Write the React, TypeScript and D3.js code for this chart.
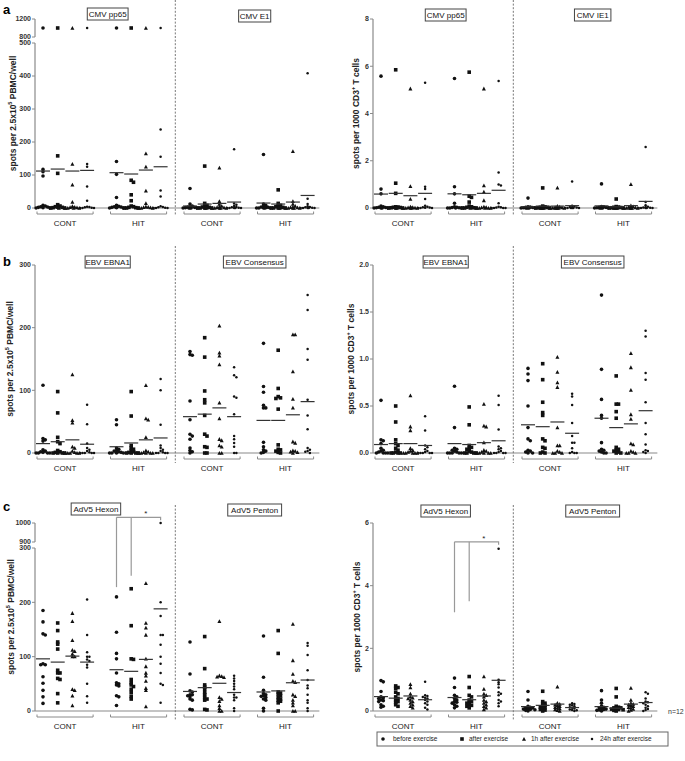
import React from "react";
import * as d3 from "d3";

const FONT = "'Liberation Sans', Arial, Helvetica, sans-serif";
const groups = ["CONT", "HIT"];
const timepoints = ["before exercise", "after exercise", "1h after exercise", "24h after exercise"];

// Each antigen: 8 columns (CONT before, after, 1h, 24h, HIT before, after, 1h, 24h), 12 donors each
const cmvPp65Pbmc = [
  [1000, 117, 110, 97, 8, 6, 4, 3, 2, 1, 0, 0],
  [1000, 158, 105, 10, 6, 4, 3, 2, 1, 0, 0, 0],
  [1000, 133, 70, 18, 5, 3, 2, 1, 0, 0, 0, 0],
  [1000, 133, 125, 65, 22, 4, 3, 2, 1, 0, 0, 0],
  [1000, 141, 102, 32, 8, 5, 4, 3, 2, 1, 0, 0],
  [1000, 84, 78, 40, 22, 6, 4, 2, 1, 0, 0, 0],
  [1000, 165, 125, 52, 14, 4, 3, 2, 1, 0, 0, 0],
  [1000, 238, 155, 53, 35, 5, 3, 2, 1, 0, 0, 0],
];
const cmvPp65PbmcMean = [112, 118, 112, 114, 107, 103, 115, 125];
const cmvE1Pbmc = [
  [59, 12, 6, 4, 3, 2, 1, 0, 0, 0, 0, 0],
  [127, 14, 8, 5, 3, 2, 1, 0, 0, 0, 0, 0],
  [122, 20, 12, 6, 4, 2, 1, 0, 0, 0, 0, 0],
  [178, 14, 10, 6, 3, 2, 1, 0, 0, 0, 0, 0],
  [162, 12, 8, 5, 3, 2, 1, 0, 0, 0, 0, 0],
  [55, 14, 8, 6, 4, 2, 1, 0, 0, 0, 0, 0],
  [172, 20, 12, 6, 3, 2, 1, 0, 0, 0, 0, 0],
  [408, 28, 12, 5, 3, 2, 1, 0, 0, 0, 0, 0],
];
const cmvE1PbmcMean = [6, 12, 14, 18, 15, 12, 18, 38];

const cmvPp65Cd3 = [
  [5.58, 0.8, 0.6, 0.08, 0.05, 0.03, 0.02, 0.01, 0, 0, 0, 0],
  [5.85, 1.05, 0.62, 0.05, 0.04, 0.03, 0.02, 0.01, 0, 0, 0, 0],
  [5.05, 0.92, 0.38, 0.05, 0.03, 0.02, 0.01, 0, 0, 0, 0, 0],
  [5.3, 0.9, 0.8, 0.38, 0.1, 0.05, 0.03, 0.02, 0.01, 0, 0, 0],
  [5.48, 0.9, 0.6, 0.2, 0.05, 0.03, 0.02, 0.01, 0, 0, 0, 0],
  [5.75, 0.5, 0.45, 0.25, 0.08, 0.05, 0.03, 0.01, 0, 0, 0, 0],
  [5.05, 0.95, 0.68, 0.32, 0.05, 0.03, 0.02, 0, 0, 0, 0, 0],
  [5.38, 1.5, 1.0, 0.95, 0.2, 0.05, 0.03, 0.02, 0, 0, 0, 0],
];
const cmvPp65Cd3Mean = [0.59, 0.62, 0.52, 0.62, 0.6, 0.56, 0.62, 0.75];
const cmvIe1Cd3 = [
  [0.42, 0.05, 0.04, 0.03, 0.02, 0.01, 0, 0, 0, 0, 0, 0],
  [0.85, 0.08, 0.05, 0.03, 0.02, 0.01, 0, 0, 0, 0, 0, 0],
  [0.85, 0.08, 0.05, 0.03, 0.02, 0.01, 0, 0, 0, 0, 0, 0],
  [1.12, 0.1, 0.06, 0.04, 0.02, 0.01, 0, 0, 0, 0, 0, 0],
  [1.02, 0.06, 0.05, 0.03, 0.02, 0.01, 0, 0, 0, 0, 0, 0],
  [0.38, 0.06, 0.04, 0.03, 0.02, 0.01, 0, 0, 0, 0, 0, 0],
  [1.0, 0.1, 0.06, 0.04, 0.02, 0.01, 0, 0, 0, 0, 0, 0],
  [2.58, 0.25, 0.12, 0.05, 0.03, 0.02, 0.01, 0, 0, 0, 0, 0],
];
const cmvIe1Cd3Mean = [0.05, 0.08, 0.08, 0.1, 0.09, 0.05, 0.1, 0.28];

const ebna1Pbmc = [
  [108, 23, 21, 19, 5, 3, 2, 1, 0, 0, 0, 0],
  [98, 64, 25, 18, 15, 4, 2, 1, 0, 0, 0, 0],
  [125, 52, 48, 10, 8, 3, 1, 0, 0, 0, 0, 0],
  [77, 46, 15, 8, 5, 3, 1, 0, 0, 0, 0, 0],
  [53, 45, 8, 6, 4, 3, 2, 1, 0, 0, 0, 0],
  [98, 59, 12, 8, 6, 4, 2, 1, 0, 0, 0, 0],
  [108, 55, 53, 25, 4, 2, 1, 0, 0, 0, 0, 0],
  [118, 100, 45, 12, 8, 5, 3, 1, 0, 0, 0, 0],
];
const ebna1PbmcMean = [15, 18, 21, 14, 10, 16, 21, 24];
const ebvConsPbmc = [
  [162, 157, 156, 83, 53, 30, 27, 22, 8, 4, 2, 0],
  [184, 153, 99, 85, 80, 60, 30, 27, 10, 9, 0, 0],
  [203, 160, 155, 141, 80, 55, 22, 20, 12, 10, 0, 0],
  [137, 124, 121, 90, 88, 62, 27, 22, 16, 10, 0, 0],
  [175, 106, 97, 76, 72, 72, 17, 10, 5, 3, 1, 0],
  [164, 103, 90, 88, 87, 70, 13, 6, 5, 3, 1, 0],
  [189, 189, 130, 86, 72, 18, 16, 4, 3, 2, 1, 0],
  [252, 228, 166, 149, 85, 60, 38, 8, 5, 3, 2, 0],
];
const ebvConsPbmcMean = [58, 62, 72, 58, 52, 52, 61, 82];

const ebna1Cd3 = [
  [0.56, 0.14, 0.13, 0.1, 0.05, 0.03, 0.02, 0.01, 0, 0, 0, 0],
  [0.5, 0.33, 0.14, 0.1, 0.08, 0.05, 0.03, 0.01, 0, 0, 0, 0],
  [0.61, 0.28, 0.24, 0.05, 0.03, 0.02, 0.01, 0, 0, 0, 0, 0],
  [0.39, 0.24, 0.08, 0.06, 0.04, 0.02, 0.01, 0, 0, 0, 0, 0],
  [0.71, 0.27, 0.05, 0.04, 0.03, 0.02, 0.01, 0, 0, 0, 0, 0],
  [0.49, 0.3, 0.08, 0.06, 0.05, 0.04, 0.02, 0.01, 0, 0, 0, 0],
  [0.52, 0.29, 0.28, 0.11, 0.03, 0.02, 0.01, 0, 0, 0, 0, 0],
  [0.61, 0.51, 0.25, 0.07, 0.05, 0.04, 0.02, 0.01, 0, 0, 0, 0],
];
const ebna1Cd3Mean = [0.09, 0.1, 0.1, 0.08, 0.1, 0.09, 0.11, 0.13];
const ebvConsCd3 = [
  [0.9, 0.84, 0.77, 0.5, 0.27, 0.15, 0.13, 0.03, 0.02, 0.01, 0, 0],
  [0.95, 0.78, 0.54, 0.43, 0.4, 0.15, 0.13, 0.06, 0.05, 0.01, 0, 0],
  [1.02, 0.86, 0.75, 0.7, 0.27, 0.08, 0.08, 0.02, 0.01, 0, 0, 0],
  [0.63, 0.6, 0.51, 0.32, 0.18, 0.11, 0.11, 0.05, 0.01, 0, 0, 0],
  [1.68, 0.89, 0.57, 0.4, 0.37, 0.11, 0.04, 0.03, 0.02, 0.01, 0, 0],
  [0.82, 0.52, 0.52, 0.44, 0.37, 0.06, 0.04, 0.03, 0.02, 0.01, 0, 0],
  [1.06, 0.91, 0.67, 0.41, 0.36, 0.1, 0.09, 0.02, 0.01, 0, 0, 0],
  [1.3, 1.24, 0.85, 0.78, 0.54, 0.32, 0.2, 0.09, 0.03, 0.02, 0.01, 0],
];
const ebvConsCd3Mean = [0.3, 0.28, 0.33, 0.21, 0.37, 0.27, 0.31, 0.45];

const hexonPbmc = [
  [185, 164, 142, 140, 87, 85, 85, 63, 51, 38, 26, 14],
  [162, 148, 127, 123, 114, 75, 70, 70, 60, 58, 32, 15],
  [180, 165, 130, 112, 110, 105, 100, 100, 40, 38, 28, 10],
  [205, 140, 108, 100, 100, 95, 92, 85, 80, 50, 27, 15],
  [210, 145, 106, 96, 70, 52, 50, 48, 46, 28, 26, 10],
  [225, 157, 96, 95, 58, 52, 48, 45, 40, 34, 27, 22],
  [235, 162, 153, 140, 96, 82, 70, 65, 55, 42, 38, 8],
  [1000, 200, 175, 140, 140, 122, 100, 87, 70, 50, 48, 15],
];
const hexonPbmcMean = [96, 90, 101, 90, 76, 73, 95, 188];
const pentonPbmc = [
  [127, 68, 37, 35, 30, 30, 28, 26, 22, 20, 3, 2],
  [137, 78, 48, 44, 40, 34, 30, 25, 22, 20, 3, 2],
  [165, 65, 64, 63, 62, 25, 22, 18, 10, 5, 0, 0],
  [65, 60, 55, 50, 45, 40, 30, 25, 25, 20, 5, 0],
  [138, 62, 38, 32, 30, 28, 27, 25, 22, 20, 5, 0],
  [148, 106, 35, 33, 31, 28, 25, 22, 20, 18, 15, 0],
  [160, 93, 68, 55, 53, 30, 27, 20, 15, 10, 0, 0],
  [125, 120, 103, 75, 57, 47, 42, 30, 20, 15, 5, 0],
];
const pentonPbmcMean = [36, 43, 51, 34, 35, 37, 52, 57];

const hexonCd3 = [
  [0.97, 0.93, 0.62, 0.45, 0.42, 0.4, 0.35, 0.33, 0.3, 0.2, 0.15, 0.12],
  [0.8, 0.75, 0.72, 0.6, 0.55, 0.45, 0.4, 0.35, 0.3, 0.28, 0.2, 0.15],
  [0.85, 0.75, 0.55, 0.45, 0.42, 0.4, 0.35, 0.3, 0.25, 0.2, 0.15, 0.1],
  [0.93, 0.5, 0.48, 0.45, 0.42, 0.4, 0.35, 0.3, 0.25, 0.2, 0.1, 0.05],
  [1.05, 0.75, 0.5, 0.45, 0.4, 0.35, 0.3, 0.28, 0.25, 0.2, 0.15, 0.1],
  [1.1, 0.75, 0.5, 0.45, 0.35, 0.3, 0.28, 0.25, 0.2, 0.18, 0.15, 0.1],
  [1.1, 0.7, 0.55, 0.5, 0.45, 0.35, 0.3, 0.25, 0.2, 0.15, 0.1, 0.05],
  [5.18, 1.0, 0.92, 0.85, 0.75, 0.6, 0.55, 0.5, 0.35, 0.3, 0.25, 0.15],
];
const hexonCd3Mean = [0.46, 0.41, 0.48, 0.36, 0.43, 0.36, 0.48, 0.98];
const pentonCd3 = [
  [0.62, 0.35, 0.15, 0.12, 0.1, 0.1, 0.08, 0.06, 0.05, 0.04, 0.02, 0],
  [0.63, 0.3, 0.25, 0.22, 0.18, 0.15, 0.12, 0.1, 0.08, 0.05, 0.03, 0],
  [0.77, 0.25, 0.22, 0.2, 0.18, 0.15, 0.12, 0.1, 0.08, 0.05, 0.02, 0],
  [0.25, 0.22, 0.2, 0.18, 0.15, 0.12, 0.1, 0.08, 0.05, 0.03, 0.02, 0],
  [0.65, 0.35, 0.25, 0.15, 0.12, 0.1, 0.08, 0.06, 0.05, 0.03, 0.02, 0],
  [0.72, 0.45, 0.15, 0.12, 0.1, 0.1, 0.08, 0.06, 0.05, 0.04, 0.02, 0],
  [0.73, 0.35, 0.25, 0.22, 0.2, 0.18, 0.15, 0.12, 0.1, 0.06, 0.03, 0],
  [0.6, 0.55, 0.4, 0.3, 0.28, 0.25, 0.2, 0.15, 0.1, 0.06, 0.03, 0],
];
const pentonCd3Mean = [0.14, 0.18, 0.22, 0.11, 0.14, 0.09, 0.22, 0.27];

const aPbmcTicks = [0, 100, 200, 300, 400, 500, 800, 1200];
const aCd3Ticks = [0, 2, 4, 6, 8];
const bPbmcTicks = [0, 100, 200, 300];
const bCd3Ticks = [0, 0.5, 1, 1.5, 2];
const cPbmcTicks = [0, 100, 200, 300, 900, 1000];
const cCd3Ticks = [0, 2, 4, 6];

// significance: HIT before & HIT after vs HIT 24h (AdV5 Hexon)
const sigFromCols = [4, 5];
const sigToCol = 7;
const sigHexonPbmc = { starts: [228, 249], top: 1030 };
const sigHexonCd3 = { starts: [3.15, 3.5], top: 5.4 };

type Seg = { d: [number, number]; r: [number, number] };

function makeY(segs: Seg[]) {
  const sc = segs.map((s) => d3.scaleLinear().domain(s.d).range(s.r));
  return (v: number) => {
    for (let i = 0; i < segs.length; i++) {
      if (v <= segs[i].d[1] || i === segs.length - 1) return sc[i](v);
    }
    return sc[0](v);
  };
}

function swarm(vals: number[], y: (v: number) => number, cx: number, s: number) {
  const order = vals.map((v, i) => ({ v, i, py: y(v) })).sort((a, b) => b.v - a.v);
  const placed: { x: number; y: number }[] = [];
  const out: { x: number; y: number }[] = new Array(vals.length);
  order.forEach((p, n) => {
    let best = 0;
    let found = false;
    for (let k = 0; k < 7; k++) {
      const off = k === 0 ? 0 : (k % 2 === 1 ? 1 : -1) * Math.ceil(k / 2) * s;
      const ok = placed.every(
        (q) => Math.abs(q.x - (cx + off)) >= s * 0.9 || Math.abs(q.y - p.py) >= s * 0.9
      );
      if (ok) {
        best = off;
        found = true;
        break;
      }
    }
    if (!found) best = ((n % 7) - 3) * s * 0.5;
    placed.push({ x: cx + best, y: p.py });
    out[p.i] = { x: cx + best, y: p.py };
  });
  return out;
}

function Marker({ t, x, y }: { t: number; x: number; y: number }) {
  const c = "#111";
  if (t === 0) return <circle cx={x} cy={y} r={1.8} fill={c} />;
  if (t === 1) return <rect x={x - 1.8} y={y - 1.8} width={3.6} height={3.6} fill={c} />;
  if (t === 2) {
    const h = 3.4;
    return <path d={`M${x},${y - h / 2 - 0.4}L${x + 2},${y + h / 2}L${x - 2},${y + h / 2}Z`} fill={c} />;
  }
  return <circle cx={x} cy={y} r={1.25} fill={c} />;
}

type ChartCfg = {
  axisX: number;
  zeroY: number;
  segs: Seg[];
  ticks: number[];
  tickFmt: (v: number) => string;
  titles: string[];
  titleSlots: number[];
  titleTop: number[];
  data: number[][][];
  means: number[][];
  yLabel: "pbmc" | "cd3";
  yLabelX: number;
  divTop: number;
  divBottom: number;
  sig?: { antigen: number; starts: number[]; top: number };
};

const fmt0 = (v: number) => String(v);
const fmt1 = d3.format(".1f");

const charts: ChartCfg[] = [
  {
    axisX: 35, zeroY: 208,
    segs: [{ d: [0, 500], r: [208, 43] }, { d: [800, 1200], r: [37, 19] }],
    ticks: aPbmcTicks, tickFmt: fmt0, titles: ["CMV pp65", "CMV E1"], titleSlots: [4.4, 14.4], titleTop: [8, 10],
    data: [cmvPp65Pbmc, cmvE1Pbmc], means: [cmvPp65PbmcMean, cmvE1PbmcMean], yLabel: "pbmc", yLabelX: 14,
    divTop: 0, divBottom: 216,
  },
  {
    axisX: 373, zeroY: 208,
    segs: [{ d: [0, 8], r: [208, 19] }],
    ticks: aCd3Ticks, tickFmt: fmt0, titles: ["CMV pp65", "CMV IE1"], titleSlots: [4.4, 14.4], titleTop: [9, 9],
    data: [cmvPp65Cd3, cmvIe1Cd3], means: [cmvPp65Cd3Mean, cmvIe1Cd3Mean], yLabel: "cd3", yLabelX: 357,
    divTop: 0, divBottom: 216,
  },
  {
    axisX: 35, zeroY: 453,
    segs: [{ d: [0, 300], r: [453, 265] }],
    ticks: bPbmcTicks, tickFmt: fmt0, titles: ["EBV EBNA1", "EBV Consensus"], titleSlots: [4.4, 14.4], titleTop: [256, 256],
    data: [ebna1Pbmc, ebvConsPbmc], means: [ebna1PbmcMean, ebvConsPbmcMean], yLabel: "pbmc", yLabelX: 11,
    divTop: 246, divBottom: 463,
  },
  {
    axisX: 373, zeroY: 453,
    segs: [{ d: [0, 2], r: [453, 265] }],
    ticks: bCd3Ticks, tickFmt: fmt1, titles: ["EBV EBNA1", "EBV Consensus"], titleSlots: [4.4, 14.4], titleTop: [256, 256],
    data: [ebna1Cd3, ebvConsCd3], means: [ebna1Cd3Mean, ebvConsCd3Mean], yLabel: "cd3", yLabelX: 352,
    divTop: 246, divBottom: 463,
  },
  {
    axisX: 35, zeroY: 711,
    segs: [{ d: [0, 300], r: [711, 548] }, { d: [900, 1000], r: [542, 523] }],
    ticks: cPbmcTicks, tickFmt: fmt0, titles: ["AdV5 Hexon", "AdV5 Penton"], titleSlots: [3.6, 14.4], titleTop: [503, 504],
    data: [hexonPbmc, pentonPbmc], means: [hexonPbmcMean, pentonPbmcMean], yLabel: "pbmc", yLabelX: 12,
    divTop: 505, divBottom: 720,
    sig: { antigen: 0, ...sigHexonPbmc },
  },
  {
    axisX: 373, zeroY: 711,
    segs: [{ d: [0, 6], r: [711, 523] }],
    ticks: cCd3Ticks, tickFmt: fmt0, titles: ["AdV5 Hexon", "AdV5 Penton"], titleSlots: [4.4, 14.4], titleTop: [505, 505],
    data: [hexonCd3, pentonCd3], means: [hexonCd3Mean, pentonCd3Mean], yLabel: "cd3", yLabelX: 358,
    divTop: 505, divBottom: 720,
    sig: { antigen: 0, ...sigHexonCd3 },
  },
];

const GRAY = "#8a8a8a";

function Chart({ cfg }: { cfg: ChartCfg }) {
  const y = makeY(cfg.segs);
  const x = d3.scaleLinear().domain([0, 18]).range([cfg.axisX + 8, cfg.axisX + 8 + 18 * 14.7]);
  const slot = (antigen: number, col: number) => antigen * 10 + Math.floor(col / 4) * 5 + (col % 4);
  const yTop = cfg.segs[cfg.segs.length - 1].r[1];
  const yMid = (cfg.zeroY + yTop) / 2;
  const els: React.ReactNode[] = [];

  cfg.segs.forEach((s, i) => {
    els.push(<line key={`ax${i}`} x1={cfg.axisX} x2={cfg.axisX} y1={s.r[0]} y2={s.r[1]} stroke={GRAY} strokeWidth={1.2} />);
  });
  cfg.ticks.forEach((t, i) => {
    const ty = y(t);
    els.push(<line key={`tk${i}`} x1={cfg.axisX - 3} x2={cfg.axisX} y1={ty} y2={ty} stroke={GRAY} strokeWidth={1} />);
    els.push(
      <text key={`tl${i}`} x={cfg.axisX - 4} y={ty} dy="0.35em" textAnchor="end" fontSize={7} fontWeight="bold" fill="#333">
        {cfg.tickFmt(t)}
      </text>
    );
  });
  els.push(<line key="xax" x1={cfg.axisX} x2={x(18.8)} y1={cfg.zeroY} y2={cfg.zeroY} stroke={GRAY} strokeWidth={1.2} />);
  const dx = x(9);
  els.push(<line key="div" x1={dx} x2={dx} y1={cfg.divTop} y2={cfg.divBottom} stroke="#777" strokeWidth={1} strokeDasharray="2,1.6" />);

  els.push(
    <text key="yl" transform={`translate(${cfg.yLabelX},${yMid}) rotate(-90)`} textAnchor="middle" dominantBaseline="middle" fontSize={8.5} fontWeight="bold" fill="#222">
      {cfg.yLabel === "pbmc" ? (
        <>
          spots per 2.5x10<tspan fontSize={5.5} dy={-3}>5</tspan>
          <tspan dy={3}> PBMC/well</tspan>
        </>
      ) : (
        <>
          spots per 1000 CD3<tspan fontSize={5.5} dy={-3}>+</tspan>
          <tspan dy={3}> T cells</tspan>
        </>
      )}
    </text>
  );

  cfg.titles.forEach((title, a) => {
    const cx = x(cfg.titleSlots[a]);
    const w = title.length * 4.35 + 6;
    const top = cfg.titleTop[a];
    els.push(<rect key={`tb${a}`} x={cx - w / 2} y={top} width={w} height={12} fill="#fff" stroke="#444" strokeWidth={1} />);
    els.push(
      <text key={`tt${a}`} x={cx} y={top + 6.3} dy="0.35em" textAnchor="middle" fontSize={8} fill="#111">
        {title}
      </text>
    );
    groups.forEach((g, gi) => {
      const x0 = x(a * 10 + gi * 5) - 6;
      const x1 = x(a * 10 + gi * 5 + 3) + 6;
      const by = cfg.zeroY + 6;
      els.push(
        <path key={`br${a}${gi}`} d={`M${x0},${by - 2.5}V${by}H${x1}V${by - 2.5}`} fill="none" stroke={GRAY} strokeWidth={1} />
      );
      els.push(
        <text key={`gl${a}${gi}`} x={(x0 + x1) / 2} y={cfg.zeroY + 18} textAnchor="middle" fontSize={8} fill="#222">
          {g}
        </text>
      );
    });
    cfg.data[a].forEach((vals, col) => {
      const cx2 = x(slot(a, col));
      const t = col % 4;
      const pts = swarm(vals, y, cx2, 2.3);
      pts.forEach((p, k) => els.push(<Marker key={`p${a}-${col}-${k}`} t={t} x={p.x} y={p.y} />));
      const my = y(cfg.means[a][col]);
      els.push(<line key={`m${a}-${col}`} x1={cx2 - 7} x2={cx2 + 7} y1={my} y2={my} stroke="#333" strokeWidth={1.2} />);
    });
  });

  if (cfg.sig) {
    const sg = cfg.sig;
    const ty = y(sg.top);
    const xs = sigFromCols.map((c) => x(slot(sg.antigen, c)));
    const xe = x(slot(sg.antigen, sigToCol));
    xs.forEach((xx, i) => {
      els.push(<line key={`sv${i}`} x1={xx} x2={xx} y1={y(sg.starts[i])} y2={ty} stroke="#999" strokeWidth={1.2} />);
    });
    els.push(<path key="sh" d={`M${xs[0]},${ty}H${xe}V${ty + 3}`} fill="none" stroke="#999" strokeWidth={1.2} />);
    els.push(
      <text key="star" x={(xs[1] + xe) / 2} y={ty - 1} textAnchor="middle" fontSize={8} fill="#222">
        *
      </text>
    );
  }

  return <g>{els}</g>;
}

const legendMarkerX = [383, 462, 524, 592];
const legendTextX = [393, 469, 531, 600];

export default function App() {
  return (
    <svg width={685} height={761} style={{ display: "block", position: "absolute", left: 0, top: 0, background: "#fff" }} fontFamily={FONT}>
      <rect x={0} y={0} width={685} height={761} fill="#fff" />
      <text x={3} y={14} fontSize={13} fontWeight="bold">a</text>
      <text x={3} y={266} fontSize={13} fontWeight="bold">b</text>
      <text x={3} y={511} fontSize={13} fontWeight="bold">c</text>
      {charts.map((c, i) => (
        <Chart key={i} cfg={c} />
      ))}
      <text x={668} y={714} fontSize={7} fill="#333">n=12</text>
      <rect x={377} y={732} width={291} height={14} fill="none" stroke="#666" strokeWidth={1} />
      {timepoints.map((t, i) => (
        <g key={t}>
          <Marker t={i} x={legendMarkerX[i]} y={739} />
          <text x={legendTextX[i]} y={739} dy="0.35em" fontSize={6.5} fill="#222">
            {t}
          </text>
        </g>
      ))}
    </svg>
  );
}
